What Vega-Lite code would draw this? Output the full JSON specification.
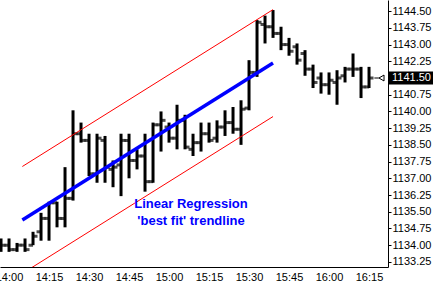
{
  "$schema": "https://vega.github.io/schema/vega-lite/v6.json",
  "width": 388,
  "height": 267,
  "padding": {"left": 0, "top": 0, "right": 47, "bottom": 28},
  "autosize": {"type": "none"},
  "background": "white",
  "config": {
    "view": {"stroke": null},
    "font": "Liberation Sans",
    "axis": {"labelFont": "Liberation Sans", "labelFontSize": 11, "labelColor": "#000000", "domainColor": "#000000", "tickColor": "#000000", "grid": false, "title": null, "labelOverlap": false, "labelFlush": false, "labelBound": false},
    "axisY": {"labelOverlap": false},
    "axisX": {"labelOverlap": false}
  },
  "encoding": {
    "x": {
      "field": "t", "type": "temporal",
      "scale": {"domain": [
        {"year": 2024, "month": 1, "date": 1, "hours": 13, "minutes": 56, "seconds": 37},
        {"year": 2024, "month": 1, "date": 1, "hours": 16, "minutes": 22, "seconds": 7}
      ]},
      "axis": {
        "orient": "bottom", "format": "%H:%M", "ticks": false, "labelPadding": 4,
        "labelOverlap": false, "labelFlush": false,
        "values": [
          {"year": 2024, "month": 1, "date": 1, "hours": 14, "minutes": 0},
          {"year": 2024, "month": 1, "date": 1, "hours": 14, "minutes": 15},
          {"year": 2024, "month": 1, "date": 1, "hours": 14, "minutes": 30},
          {"year": 2024, "month": 1, "date": 1, "hours": 14, "minutes": 45},
          {"year": 2024, "month": 1, "date": 1, "hours": 15, "minutes": 0},
          {"year": 2024, "month": 1, "date": 1, "hours": 15, "minutes": 15},
          {"year": 2024, "month": 1, "date": 1, "hours": 15, "minutes": 30},
          {"year": 2024, "month": 1, "date": 1, "hours": 15, "minutes": 45},
          {"year": 2024, "month": 1, "date": 1, "hours": 16, "minutes": 0},
          {"year": 2024, "month": 1, "date": 1, "hours": 16, "minutes": 15}
        ]
      }
    },
    "y": {
      "field": "p", "type": "quantitative",
      "scale": {"domain": [1133.02, 1145.0], "nice": false, "zero": false},
      "axis": {
        "orient": "right", "format": ".2f", "tickSize": 3, "labelPadding": 1, "labelOverlap": false, "labelFlush": false,
        "values": [1133.25, 1134.0, 1134.75, 1135.5, 1136.25, 1137.0, 1137.75, 1138.5, 1139.25, 1140.0, 1140.75, 1141.5, 1142.25, 1143.0, 1143.75, 1144.5]
      }
    }
  },
  "layer": [
    {
      "data": {"values": [
        {"t": "2024-01-01T13:57", "o": 1134.0, "h": 1134.3, "p": 1133.7, "c": 1134.0},
        {"t": "2024-01-01T14:00", "o": 1134.0, "h": 1134.3, "p": 1133.7, "c": 1133.8},
        {"t": "2024-01-01T14:03", "o": 1133.8, "h": 1134.1, "p": 1133.7, "c": 1134.0},
        {"t": "2024-01-01T14:06", "o": 1134.0, "h": 1134.3, "p": 1133.7, "c": 1133.8},
        {"t": "2024-01-01T14:09", "o": 1134.0, "h": 1134.6, "p": 1134.0, "c": 1134.4},
        {"t": "2024-01-01T14:12", "o": 1134.6, "h": 1135.45, "p": 1134.2, "c": 1135.2},
        {"t": "2024-01-01T14:15", "o": 1135.2, "h": 1135.95, "p": 1134.2, "c": 1135.9},
        {"t": "2024-01-01T14:18", "o": 1135.9, "h": 1135.95, "p": 1134.8, "c": 1135.2},
        {"t": "2024-01-01T14:21", "o": 1135.2, "h": 1137.5, "p": 1134.8, "c": 1136.1},
        {"t": "2024-01-01T14:24", "o": 1136.1, "h": 1140.05, "p": 1136.0, "c": 1139.0},
        {"t": "2024-01-01T14:27", "o": 1139.0, "h": 1139.5, "p": 1138.6, "c": 1138.7},
        {"t": "2024-01-01T14:30", "o": 1138.7, "h": 1139.0, "p": 1137.1, "c": 1137.2},
        {"t": "2024-01-01T14:33", "o": 1137.2, "h": 1139.0, "p": 1136.8, "c": 1138.8},
        {"t": "2024-01-01T14:36", "o": 1138.7, "h": 1138.9, "p": 1136.8, "c": 1137.5},
        {"t": "2024-01-01T14:39", "o": 1137.4, "h": 1137.8, "p": 1136.6, "c": 1137.5},
        {"t": "2024-01-01T14:42", "o": 1137.6, "h": 1139.0, "p": 1136.2, "c": 1138.7},
        {"t": "2024-01-01T14:45", "o": 1138.7, "h": 1139.0, "p": 1137.0, "c": 1137.8},
        {"t": "2024-01-01T14:48", "o": 1137.8, "h": 1138.3, "p": 1137.4, "c": 1138.0},
        {"t": "2024-01-01T14:51", "o": 1138.0, "h": 1139.0, "p": 1136.4, "c": 1136.85},
        {"t": "2024-01-01T14:54", "o": 1136.85, "h": 1139.5, "p": 1136.8, "c": 1139.4},
        {"t": "2024-01-01T14:57", "o": 1139.4, "h": 1140.0, "p": 1138.2, "c": 1139.6},
        {"t": "2024-01-01T15:00", "o": 1139.3, "h": 1139.5, "p": 1138.6, "c": 1138.8},
        {"t": "2024-01-01T15:03", "o": 1138.8, "h": 1140.3, "p": 1138.3, "c": 1139.6},
        {"t": "2024-01-01T15:06", "o": 1139.6, "h": 1139.85, "p": 1138.3, "c": 1138.4},
        {"t": "2024-01-01T15:09", "o": 1138.3, "h": 1139.0, "p": 1138.0, "c": 1138.6},
        {"t": "2024-01-01T15:12", "o": 1138.6, "h": 1139.5, "p": 1138.2, "c": 1139.0},
        {"t": "2024-01-01T15:15", "o": 1139.0, "h": 1139.5, "p": 1138.6, "c": 1138.7},
        {"t": "2024-01-01T15:18", "o": 1138.8, "h": 1139.6, "p": 1138.6, "c": 1139.3},
        {"t": "2024-01-01T15:21", "o": 1139.3, "h": 1140.05, "p": 1138.9, "c": 1139.5},
        {"t": "2024-01-01T15:24", "o": 1139.5, "h": 1140.2, "p": 1139.0, "c": 1139.2},
        {"t": "2024-01-01T15:27", "o": 1139.2, "h": 1140.5, "p": 1138.5, "c": 1140.1},
        {"t": "2024-01-01T15:30", "o": 1140.15, "h": 1142.3, "p": 1140.05, "c": 1141.75},
        {"t": "2024-01-01T15:33", "o": 1141.75, "h": 1144.1, "p": 1141.55, "c": 1144.0},
        {"t": "2024-01-01T15:36", "o": 1143.9, "h": 1144.3, "p": 1143.05, "c": 1143.8},
        {"t": "2024-01-01T15:39", "o": 1143.8, "h": 1144.55, "p": 1143.3, "c": 1143.5},
        {"t": "2024-01-01T15:42", "o": 1143.5, "h": 1143.8, "p": 1142.75, "c": 1143.0},
        {"t": "2024-01-01T15:45", "o": 1143.0, "h": 1143.3, "p": 1142.5, "c": 1142.7},
        {"t": "2024-01-01T15:48", "o": 1142.9, "h": 1143.05, "p": 1142.1, "c": 1142.3},
        {"t": "2024-01-01T15:51", "o": 1142.6, "h": 1142.75, "p": 1141.6, "c": 1141.9},
        {"t": "2024-01-01T15:54", "o": 1141.9, "h": 1142.1, "p": 1141.05, "c": 1141.3},
        {"t": "2024-01-01T15:57", "o": 1141.5, "h": 1141.75, "p": 1140.8, "c": 1141.2},
        {"t": "2024-01-01T16:00", "o": 1141.2, "h": 1141.75, "p": 1140.75, "c": 1141.4},
        {"t": "2024-01-01T16:03", "o": 1141.3, "h": 1141.85, "p": 1140.3, "c": 1141.5},
        {"t": "2024-01-01T16:06", "o": 1141.6, "h": 1142.0, "p": 1141.3, "c": 1141.9},
        {"t": "2024-01-01T16:09", "o": 1141.9, "h": 1142.6, "p": 1141.55, "c": 1141.9},
        {"t": "2024-01-01T16:12", "o": 1141.9, "h": 1142.0, "p": 1140.6, "c": 1141.1},
        {"t": "2024-01-01T16:15", "o": 1141.1, "h": 1142.0, "p": 1141.05, "c": 1141.5}
      ]},
      "layer": [
        {"mark": {"type": "rule", "color": "#000000", "strokeWidth": 3}, "encoding": {"y2": {"field": "h"}}},
        {"mark": {"type": "tick", "color": "#000000", "orient": "horizontal", "size": 4.5, "thickness": 3, "xOffset": -2.25}, "encoding": {"y": {"field": "o", "type": "quantitative"}}},
        {"mark": {"type": "tick", "color": "#000000", "orient": "horizontal", "size": 4.5, "thickness": 3, "xOffset": 2.25}, "encoding": {"y": {"field": "c", "type": "quantitative"}}}
      ]
    },
    {
      "data": {"values": [
        {"series": "upper", "t": "2024-01-01T14:05", "p": 1137.53},
        {"series": "upper", "t": "2024-01-01T15:39", "p": 1144.57},
        {"series": "lower", "t": "2024-01-01T14:05", "p": 1132.73},
        {"series": "lower", "t": "2024-01-01T15:39", "p": 1139.77}
      ]},
      "mark": {"type": "line", "color": "#ff0000", "strokeWidth": 1, "clip": true},
      "encoding": {"detail": {"field": "series"}}
    },
    {
      "data": {"values": [
        {"series": "fit", "t": "2024-01-01T14:05", "p": 1135.13},
        {"series": "fit", "t": "2024-01-01T15:39", "p": 1142.17}
      ]},
      "mark": {"type": "line", "color": "#0000ff", "strokeWidth": 3.5, "clip": true},
      "encoding": {}
    },
    {
      "data": {"values": [
        {"t": "2024-01-01T15:08:15", "p": 1135.85, "label": "Linear Regression"},
        {"t": "2024-01-01T15:08:15", "p": 1135.09, "label": "'best fit' trendline"}
      ]},
      "mark": {"type": "text", "font": "Liberation Sans", "fontWeight": "bold", "fontSize": 13, "color": "#0000ff", "align": "center", "baseline": "middle"},
      "encoding": {"text": {"field": "label"}}
    },
    {
      "data": {"values": [
        {"t": "2024-01-01T16:17:00", "t2": "2024-01-01T16:18:40", "p": 1141.5}
      ]},
      "mark": {"type": "rule", "color": "#000000", "strokeWidth": 1},
      "encoding": {"x2": {"field": "t2"}}
    },
    {
      "data": {"values": [
        {"t": "2024-01-01T16:19:40", "p": 1141.5}
      ]},
      "mark": {"type": "point", "shape": "triangle-left", "size": 35, "filled": false, "color": "#000000", "strokeWidth": 1, "opacity": 1}
    },
    {
      "data": {"values": [
        {"t": "2024-01-01T16:22:07", "p": 1141.5, "label": "1141.50"}
      ]},
      "layer": [
        {"mark": {"type": "rect", "color": "#000000", "xOffset": 1, "x2Offset": 45, "yOffset": -6.5, "y2Offset": 6.5}, "encoding": {"x2": {"field": "t"}, "y2": {"field": "p"}}},
        {"mark": {"type": "text", "font": "Liberation Sans", "fontSize": 11, "color": "#ffffff", "align": "left", "baseline": "middle", "dx": 4}, "encoding": {"text": {"field": "label"}}}
      ]
    }
  ]
}
